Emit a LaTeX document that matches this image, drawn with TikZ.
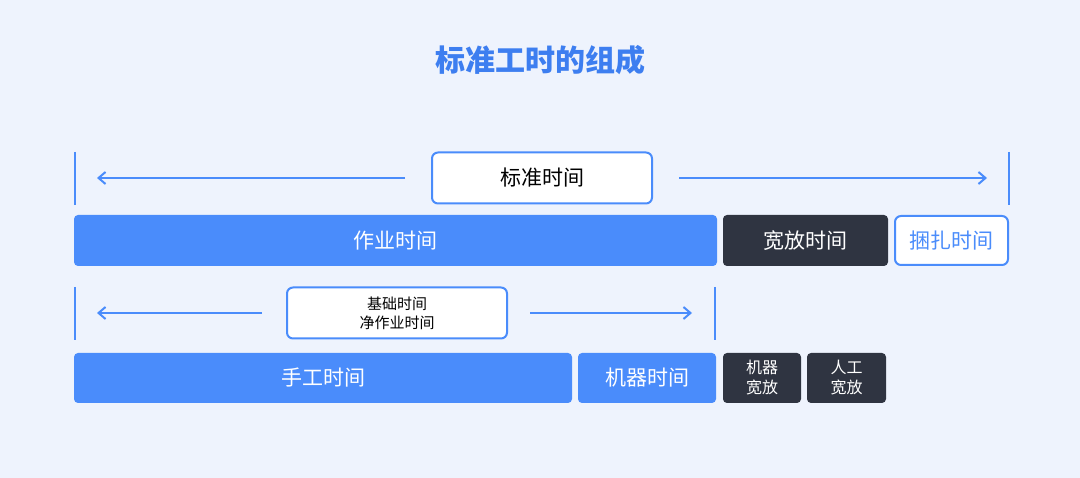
\documentclass[tikz,border=0pt]{standalone}
\usepackage{fontspec}
\setmainfont{Noto Sans CJK SC}
\usetikzlibrary{arrows.meta}
\definecolor{bg}{HTML}{EEF3FD}
\definecolor{bl}{HTML}{4A8CFB}
\definecolor{dk}{HTML}{2F3441}
\definecolor{ttl}{HTML}{3D7EF0}
\tikzset{
 bar/.style={fill=bl,rounded corners=4pt,text=white,font=\fontsize{21}{24}\selectfont},
 dbar/.style={fill=dk,rounded corners=4pt,text=white,font=\fontsize{21}{24}\selectfont},
 wbox/.style={fill=white,draw=bl,line width=2pt,rounded corners=6pt,text=black,font=\fontsize{21}{24}\selectfont},
 tick/.style={draw=bl,line width=2.2pt},
 arr/.style={draw=bl,line width=2pt,-{Straight Barb[length=7pt,width=12pt]}},
}
\begin{document}
\begin{tikzpicture}[x=1pt,y=-1pt]
\fill[bg] (0,0) rectangle (1080,478);
\useasboundingbox (0,0) rectangle (1080,478);
\node[text=ttl,font=\fontsize{30}{34}\selectfont\bfseries] (title) at (540,60) {标准工时的组成};
% top
\draw[tick] (75,152) -- (75,205); \draw[tick] (1009,152) -- (1009,205);
\node[wbox,minimum width=220pt,minimum height=51pt] (std) at (542,178) {标准时间};
\coordinate (l1) at (97,178); \coordinate (r1) at (987,178);
\draw[arr] ([xshift=-26pt]std.west) -- (l1);
\draw[arr] ([xshift=26pt]std.east) -- (r1);
% row1
\node[bar,minimum width=643pt,minimum height=51pt] (zy) at (395.5,240.5) {作业时间};
\node[dbar,minimum width=165pt,minimum height=51pt] (kf) at (805.5,240.5) {宽放时间};
\node[wbox,minimum width=113pt,minimum height=49pt,text=bl] (kz) at (951.5,240.5) {捆扎时间};
% second
\draw[tick] (75,287) -- (75,340); \draw[tick] (715,287) -- (715,340);
\node[wbox,minimum width=220pt,minimum height=51pt,font=\fontsize{15}{19}\selectfont,align=center] (jc) at (397,313) {基础时间\\净作业时间};
\coordinate (l2) at (97,313); \coordinate (r2) at (692,313);
\draw[arr] ([xshift=-24pt]jc.west) -- (l2);
\draw[arr] ([xshift=22pt]jc.east) -- (r2);
% row3
\node[bar,minimum width=498pt,minimum height=50pt] (sg) at (323,378) {手工时间};
\node[bar,minimum width=138pt,minimum height=50pt] (jq) at (647,378) {机器时间};
\node[dbar,minimum width=78pt,minimum height=50pt,font=\fontsize{16}{20}\selectfont,align=center] (jk) at (762,378) {机器\\宽放};
\node[dbar,minimum width=79pt,minimum height=50pt,font=\fontsize{16}{20}\selectfont,align=center] (rk) at (846.5,378) {人工\\宽放};
\end{tikzpicture}
\end{document}
